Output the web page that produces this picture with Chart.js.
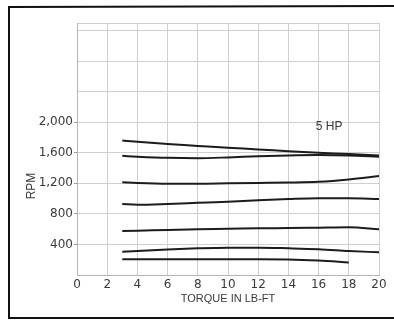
<!DOCTYPE html>
<html>
<head>
<meta charset="utf-8">
<script src="https://cdn.jsdelivr.net/npm/chart.js@4/dist/chart.umd.min.js"></script>
<style>
  html, body { margin: 0; padding: 0; background: #fff; }
  #wrap { width: 394px; height: 320px; position: relative; }
</style>
</head>
<body>
<div id="wrap"><canvas id="rpmChart"></canvas></div>
<script>
// torque readings (lb-ft) where each curve is sampled
const torque = [3, 4, 6, 8, 10, 12, 14, 16, 18, 20];
const torqueShort = [3, 4, 6, 8, 10, 12, 14, 16, 18];

// speed curves, top to bottom (rpm)
const rpmA = [1760, 1745, 1715, 1690, 1665, 1645, 1620, 1600, 1585, 1565];
const rpmB = [1560, 1550, 1535, 1530, 1540, 1555, 1565, 1570, 1565, 1550];
const rpmC = [1215, 1205, 1195, 1195, 1200, 1205, 1210, 1220, 1250, 1295];
const rpmD = [930, 920, 930, 945, 960, 980, 995, 1005, 1005, 995];
const rpmE = [575, 580, 590, 600, 605, 612, 615, 620, 625, 600];
const rpmF = [305, 315, 335, 350, 358, 358, 350, 338, 315, 297];
const rpmG = [205, 206, 206, 206, 206, 206, 204, 190, 165];

// grid rows on the rpm axis, and the ones that carry a label
const rpmGrid = [0, 400, 800, 1200, 1600, 2000, 2400, 2800, 3200, 3300];
const rpmLabelled = [400, 800, 1200, 1600, 2000];

const curves = [
    [torque, rpmA], [torque, rpmB], [torque, rpmC], [torque, rpmD],
    [torque, rpmE], [torque, rpmF], [torqueShort, rpmG]
];

const hpLabel = { text: '5 HP', x: 16.7, y: 1940 };

const inkColor = '#1c1c1c';
const gridColor = '#cfcfcf';
const labelColor = '#3a3a3a';
const titleFont = '"Liberation Sans", Arial, sans-serif';
const tickFont = '"DejaVu Sans", sans-serif';

// outer frame, rpm title and the "5 HP" note
const decorPlugin = {
    id: 'decor',
    beforeDraw(chart) {
        const ctx = chart.ctx;
        ctx.save();
        ctx.strokeStyle = '#111';
        ctx.lineWidth = 2;
        ctx.beginPath();
        ctx.moveTo(394, 6);
        ctx.lineTo(9, 7);
        ctx.lineTo(9, 318);
        ctx.lineTo(394, 318);
        ctx.stroke();

        // RPM, reading upward, set low on the axis
        ctx.fillStyle = labelColor;
        ctx.font = '12px ' + titleFont;
        ctx.textAlign = 'center';
        ctx.textBaseline = 'middle';
        ctx.translate(32, 186);
        ctx.rotate(-Math.PI / 2);
        ctx.fillText('RPM', 0, 0);
        ctx.restore();
    },
    afterDatasetsDraw(chart) {
        const { ctx, scales } = chart;
        ctx.save();
        ctx.fillStyle = labelColor;
        ctx.font = '12px ' + titleFont;
        ctx.textAlign = 'center';
        ctx.textBaseline = 'middle';
        ctx.fillText(hpLabel.text, scales.x.getPixelForValue(hpLabel.x), scales.y.getPixelForValue(hpLabel.y));
        ctx.restore();
    }
};

const datasets = curves.map(([xs, ys]) => ({
    data: xs.map((x, i) => ({ x: x, y: ys[i] })),
    borderColor: inkColor,
    borderWidth: 2,
    pointRadius: 0,
    fill: false,
    cubicInterpolationMode: 'monotone'
}));

new Chart(document.getElementById('rpmChart'), {
    type: 'line',
    data: { datasets: datasets },
    options: {
        responsive: true,
        maintainAspectRatio: false,
        animation: false,
        layout: { padding: { left: 0, top: 23, right: 15, bottom: 0 } },
        plugins: { legend: { display: false }, tooltip: { enabled: false } },
        scales: {
            x: {
                type: 'linear',
                min: 0,
                max: 20,
                ticks: { stepSize: 2, color: labelColor, padding: 3, font: { size: 12, family: tickFont } },
                grid: { color: gridColor, drawTicks: false },
                border: { color: '#b5b5b5' },
                title: {
                    display: true,
                    text: 'TORQUE IN LB-FT',
                    color: labelColor,
                    font: { size: 11, family: titleFont },
                    padding: { top: 0, bottom: 14 }
                },
                afterFit(scale) { scale.height = 45; }
            },
            y: {
                type: 'linear',
                min: 0,
                max: 3300,
                afterBuildTicks(scale) {
                    scale.ticks = rpmGrid.map(v => ({ value: v }));
                },
                ticks: {
                    color: labelColor,
                    padding: 1,
                    font: { size: 12, family: tickFont },
                    callback: v => rpmLabelled.includes(v) ? v.toLocaleString('en-US') : ''
                },
                grid: {
                    color: gridColor,
                    tickLength: 3,
                    tickColor: c => rpmLabelled.includes(c.tick && c.tick.value) ? '#999' : 'rgba(0,0,0,0)'
                },
                border: { color: '#b5b5b5' },
                afterFit(scale) { scale.width = 77; }
            }
        }
    },
    plugins: [decorPlugin]
});
</script>
</body>
</html>
